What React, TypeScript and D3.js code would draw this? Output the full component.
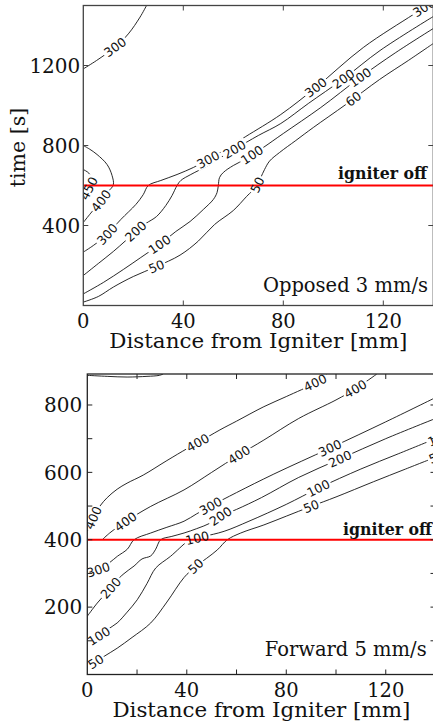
import React from 'react';
import * as d3 from 'd3';

type Pt = [number, number];
type Lbl = { line: string; text: string; x: number; t: number };

// ---- top panel: opposed flow 3 mm/s   (points are [distance mm, time s])
const oppXTicks = [40, 80, 120];
const oppXLabels = [0, 40, 80, 120];
const oppYTicks = [400, 800, 1200];
const oppYLabels = [400, 800, 1200];
const oppIgniterOff = 600;

const opp300TopLeft: Pt[] = [[0, 1183], [5.3, 1225], [12.7, 1292], [18, 1358], [22.7, 1442], [25.3, 1500]];
const opp450: Pt[] = [[0, 545], [1.6, 570], [3, 605], [3.3, 635], [2.2, 662], [0, 680]];
const opp400: Pt[] = [[0, 415], [3, 462], [6.7, 517], [10, 570], [12, 603], [11.5, 650], [9.5, 705], [5.5, 755], [2.5, 782], [0, 800]];
const opp300: Pt[] = [[0, 267], [4, 300], [9.5, 355], [15, 430], [21, 505], [24, 555], [26, 600], [31, 625], [37.5, 655], [44, 690], [50, 730], [58, 790], [65, 845], [79, 955], [93, 1090], [112, 1290], [132, 1455], [137.5, 1500]];
const opp200: Pt[] = [[0, 150], [6, 210], [12, 270], [17, 325], [21.3, 375], [25, 410], [29.3, 445], [33, 500], [35.5, 550], [37.5, 600], [39, 625], [43, 655], [50, 700], [56, 748], [61, 785], [70, 850], [79, 910], [90, 1010], [104, 1133], [118.7, 1275], [140, 1445]];
const opp100: Pt[] = [[0, 58], [8, 115], [16, 180], [23, 240], [30.5, 305], [37, 370], [42.7, 420], [48, 480], [52, 530], [53.5, 565], [54, 600], [54.5, 640], [56, 665], [60, 700], [65.3, 735], [72, 790], [80, 860], [95, 990], [110.7, 1140], [125, 1265], [140, 1385]];
const opp50: Pt[] = [[0, 17], [6, 45], [12, 92], [20, 145], [29.3, 195], [38.7, 252], [46, 322], [52.5, 405], [60, 475], [65.3, 545], [69.5, 600], [71, 640], [72.5, 680], [74.5, 722], [78.5, 765], [85, 825], [92, 890], [105, 1005], [118.5, 1130], [130, 1225], [140, 1310]];

const oppLabels: Lbl[] = [
  { line: 'tl300', text: '300', x: 12.7, t: 1292 },
  { line: 'c450', text: '450', x: 1.8, t: 588 },
  { line: 'c400', text: '400', x: 7.3, t: 522 },
  { line: 'c300', text: '300', x: 9.5, t: 358 },
  { line: 'c300', text: '300', x: 50, t: 728 },
  { line: 'c300', text: '300', x: 93, t: 1090 },
  { line: 'c300', text: '300', x: 136.5, t: 1485 },
  { line: 'c200', text: '200', x: 21, t: 370 },
  { line: 'c200', text: '200', x: 60.5, t: 780 },
  { line: 'c200', text: '200', x: 104, t: 1133 },
  { line: 'c100', text: '100', x: 30.5, t: 305 },
  { line: 'c100', text: '100', x: 67.4, t: 755 },
  { line: 'c100', text: '100', x: 110.7, t: 1142 },
  { line: 'c50', text: '50', x: 29.3, t: 195 },
  { line: 'c50', text: '50', x: 70.7, t: 597 },
  { line: 'c50', text: '60', x: 108, t: 1034 },
];

// ---- bottom panel: forward flow 5 mm/s
const fwdXTicks = [20, 40, 60, 80, 100, 120];
const fwdXLabels = [0, 40, 80, 120];
const fwdYTicks = [100, 200, 300, 400, 500, 600, 700, 800];
const fwdYLabels = [200, 400, 600, 800];
const fwdIgniterOff = 400;

const fwdTop: Pt[] = [[0, 888], [8, 885], [16, 883], [24, 885], [29, 888], [30.5, 892]];
const fwd400a: Pt[] = [[0, 425], [2.4, 465], [5.1, 500], [8, 525], [12, 550], [16, 568], [22.5, 592], [32, 635], [40, 670], [44.4, 688], [53.3, 726], [60, 752], [71, 795], [80, 825], [91.6, 866], [96.2, 892]];
const fwd400b: Pt[] = [[6, 400], [9, 420], [15.4, 454], [25.5, 499], [38.9, 548], [50, 600], [61, 652], [71, 696], [85, 760], [100, 815], [107.8, 848], [116.4, 892]];
const fwd300: Pt[] = [[0, 300], [4.4, 311], [9.1, 333], [12.1, 351], [16.1, 372], [18.8, 400], [25.5, 420], [32, 437], [38.9, 455], [44, 477], [49.6, 500], [60, 540], [75, 595], [97.6, 672], [120, 750], [140, 822]];
const fwd200: Pt[] = [[0, 173], [4, 212], [9.4, 257], [14, 295], [18.8, 322], [22, 343], [25.5, 352], [27.5, 372], [29.5, 400], [34, 410], [38.9, 420], [44, 433], [49.6, 450], [53.6, 470], [60, 490], [70, 525], [85, 585], [101.6, 640], [120, 700], [140, 760]];
const fwd100: Pt[] = [[0, 92], [4.7, 114], [8, 133], [12, 153], [16, 185], [20.1, 222], [24, 270], [27.5, 316], [33.5, 351], [40.2, 395], [41.5, 400], [44.2, 405], [47, 410], [55, 425], [65, 455], [80, 505], [92.9, 553], [110, 610], [125, 655], [140, 700]];
const fwd50: Pt[] = [[0, 22], [3.4, 38], [7, 55], [12, 78], [18, 110], [25.5, 153], [32, 215], [38.9, 288], [43.6, 321], [48, 345], [52.3, 370], [56.3, 400], [61.7, 420], [71, 444], [80, 470], [90, 499], [100, 527], [115, 572], [128, 610], [140, 645]];

const fwdLabels: Lbl[] = [
  { line: 'a400', text: '400', x: 2.4, t: 465 },
  { line: 'a400', text: '400', x: 44.4, t: 688 },
  { line: 'a400', text: '400', x: 91.6, t: 866 },
  { line: 'b400', text: '400', x: 15.4, t: 454 },
  { line: 'b400', text: '400', x: 61, t: 652 },
  { line: 'b400', text: '400', x: 107.8, t: 848 },
  { line: 'c300', text: '300', x: 4.4, t: 311 },
  { line: 'c300', text: '300', x: 49.6, t: 500 },
  { line: 'c300', text: '300', x: 97.6, t: 672 },
  { line: 'c200', text: '200', x: 9.4, t: 257 },
  { line: 'c200', text: '200', x: 53.6, t: 470 },
  { line: 'c200', text: '200', x: 101.6, t: 640 },
  { line: 'c100', text: '100', x: 4.7, t: 114 },
  { line: 'c100', text: '100', x: 44.2, t: 405 },
  { line: 'c100', text: '100', x: 92.9, t: 553 },
  { line: 'c100', text: '100', x: 141.5, t: 702 },
  { line: 'c50', text: '50', x: 3.4, t: 38 },
  { line: 'c50', text: '50', x: 43.6, t: 321 },
  { line: 'c50', text: '50', x: 90, t: 499 },
  { line: 'c50', text: '50', x: 140.5, t: 646 },
];

const SERIF = '"DejaVu Serif", serif';

// snap a label onto its line and get the text angle (screen coords)
function placeLabel(pts: Pt[], lx: number, lt: number, x: d3.ScaleLinear<number, number>, y: d3.ScaleLinear<number, number>) {
  const px = x(lx), py = y(lt);
  let best = Infinity;
  let out = { cx: px, cy: py, ang: 0 };
  for (let i = 0; i < pts.length - 1; i++) {
    const ax = x(pts[i][0]), ay = y(pts[i][1]);
    const bx = x(pts[i + 1][0]), by = y(pts[i + 1][1]);
    const dx = bx - ax, dy = by - ay;
    const u = Math.max(0, Math.min(1, ((px - ax) * dx + (py - ay) * dy) / (dx * dx + dy * dy)));
    const qx = ax + u * dx, qy = ay + u * dy;
    const d = (qx - px) ** 2 + (qy - py) ** 2;
    if (d < best) {
      best = d;
      let a = (Math.atan2(dy, dx) * 180) / Math.PI;
      if (a > 90) a -= 180;
      if (a < -90) a += 180;
      out = { cx: qx, cy: qy, ang: a };
    }
  }
  // labels past the right edge keep their spot (only a sliver shows)
  if (lx > 140) out = { ...out, cx: px, cy: py };
  return out;
}

const Panel = ({ id, frame, tMax, lines, labels, xTicks, xLabels, yTicks, yLabels, igniterOff, yGap, caption, captionX, captionY, igniterX, igniterY, frameColor }: any) => {
  const x = d3.scaleLinear().domain([0, 140]).range([frame.left, frame.right]);
  const y = d3.scaleLinear().domain([0, tMax]).range([frame.bottom, frame.top]);
  const path = d3.line<Pt>().x(d => x(d[0])).y(d => y(d[1])).curve(d3.curveCatmullRom.alpha(0.5));
  const tick = 5;
  const placed = labels.map((l: Lbl) => ({ ...l, ...placeLabel(lines[l.line], l.x, l.t, x, y) }));
  const w = frame.right - frame.left, h = frame.bottom - frame.top;

  return (
    <g>
      <defs>
        <clipPath id={id}>
          <rect x={frame.left} y={frame.top} width={w} height={h} />
        </clipPath>
      </defs>
      <g clipPath={`url(#${id})`}>
        {Object.keys(lines).map(k => (
          <path key={k} d={path(lines[k]) || ''} fill="none" stroke="#111" strokeWidth={0.9} />
        ))}
        {placed.map((l: any, i: number) => (
          <rect key={i} x={-(l.text.length * 8 + 3) / 2} y={-6} width={l.text.length * 8 + 3} height={12}
            fill="white" transform={`translate(${l.cx},${l.cy}) rotate(${l.ang})`} />
        ))}
        <line x1={frame.left} x2={frame.right} y1={y(igniterOff)} y2={y(igniterOff)} stroke="#ff0000" strokeWidth={2.2} />
        {placed.map((l: any, i: number) => (
          <text key={i} transform={`translate(${l.cx},${l.cy}) rotate(${l.ang})`} textAnchor="middle" dy="0.36em"
            fontFamily='"DejaVu Sans", sans-serif' fontSize={12.5} fill="#111">{l.text}</text>
        ))}
      </g>
      <rect x={frame.left} y={frame.top} width={w} height={h} fill="none" stroke={frameColor} strokeWidth={1.3} />
      {xTicks.map((v: number) => (
        <g key={'xt' + v}>
          <line x1={x(v)} x2={x(v)} y1={frame.bottom} y2={frame.bottom - tick} stroke={frameColor} />
          <line x1={x(v)} x2={x(v)} y1={frame.top} y2={frame.top + tick} stroke={frameColor} />
        </g>
      ))}
      {yTicks.map((v: number) => (
        <g key={'yt' + v}>
          <line x1={frame.left} x2={frame.left + tick} y1={y(v)} y2={y(v)} stroke={frameColor} />
          <line x1={frame.right} x2={frame.right - tick} y1={y(v)} y2={y(v)} stroke={frameColor} />
        </g>
      ))}
      {xLabels.map((v: number) => (
        <text key={'xl' + v} x={x(v)} y={frame.bottom + 22} textAnchor="middle" fontFamily={SERIF} fontSize={19.5} fill="#111">{v}</text>
      ))}
      {yLabels.map((v: number) => (
        <text key={'yl' + v} x={frame.left - yGap} y={y(v)} dy="0.36em" textAnchor="end" fontFamily={SERIF} fontSize={20} fill="#111">{v}</text>
      ))}
      <text x={(frame.left + frame.right) / 2} y={frame.bottom + 42.5} textAnchor="middle" fontFamily={SERIF} fontSize={20.5}
        textLength={298} lengthAdjust="spacingAndGlyphs" fill="#111">Distance from Igniter [mm]</text>
      <text x={captionX} y={captionY} textAnchor="end" fontFamily={SERIF} fontSize={19.5} fill="#111">{caption}</text>
      <text x={igniterX} y={igniterY} fontFamily={SERIF} fontWeight="bold" fontSize={16} textLength={89}
        lengthAdjust="spacingAndGlyphs" fill="#111">igniter off</text>
    </g>
  );
};

export default function App() {
  return (
    <svg width={433} height={726} style={{ position: 'absolute', left: 0, top: 0, background: 'white' }}>
      <rect width={433} height={726} fill="white" />
      <Panel id="clipOpp" frame={{ left: 83.3, right: 433.3, top: 5.5, bottom: 305.5 }} tMax={1500}
        lines={{ tl300: opp300TopLeft, c450: opp450, c400: opp400, c300: opp300, c200: opp200, c100: opp100, c50: opp50 }}
        labels={oppLabels} xTicks={oppXTicks} xLabels={oppXLabels} yTicks={oppYTicks} yLabels={oppYLabels}
        igniterOff={oppIgniterOff} yGap={3} caption="Opposed 3 mm/s" captionX={428} captionY={292}
        igniterX={338} igniterY={178.5} frameColor="#444" />
      <Panel id="clipFwd" frame={{ left: 87.3, right: 435.5, top: 374, bottom: 674.5 }} tMax={892}
        lines={{ top: fwdTop, a400: fwd400a, b400: fwd400b, c300: fwd300, c200: fwd200, c100: fwd100, c50: fwd50 }}
        labels={fwdLabels} xTicks={fwdXTicks} xLabels={fwdXLabels} yTicks={fwdYTicks} yLabels={fwdYLabels}
        igniterOff={fwdIgniterOff} yGap={5} caption="Forward 5 mm/s" captionX={426.7} captionY={656}
        igniterX={343} igniterY={535} frameColor="#222" />
      <text transform="translate(25,147.5) rotate(-90)" textAnchor="middle" fontFamily={SERIF} fontSize={20.5} fill="#111">time [s]</text>
    </svg>
  );
}
